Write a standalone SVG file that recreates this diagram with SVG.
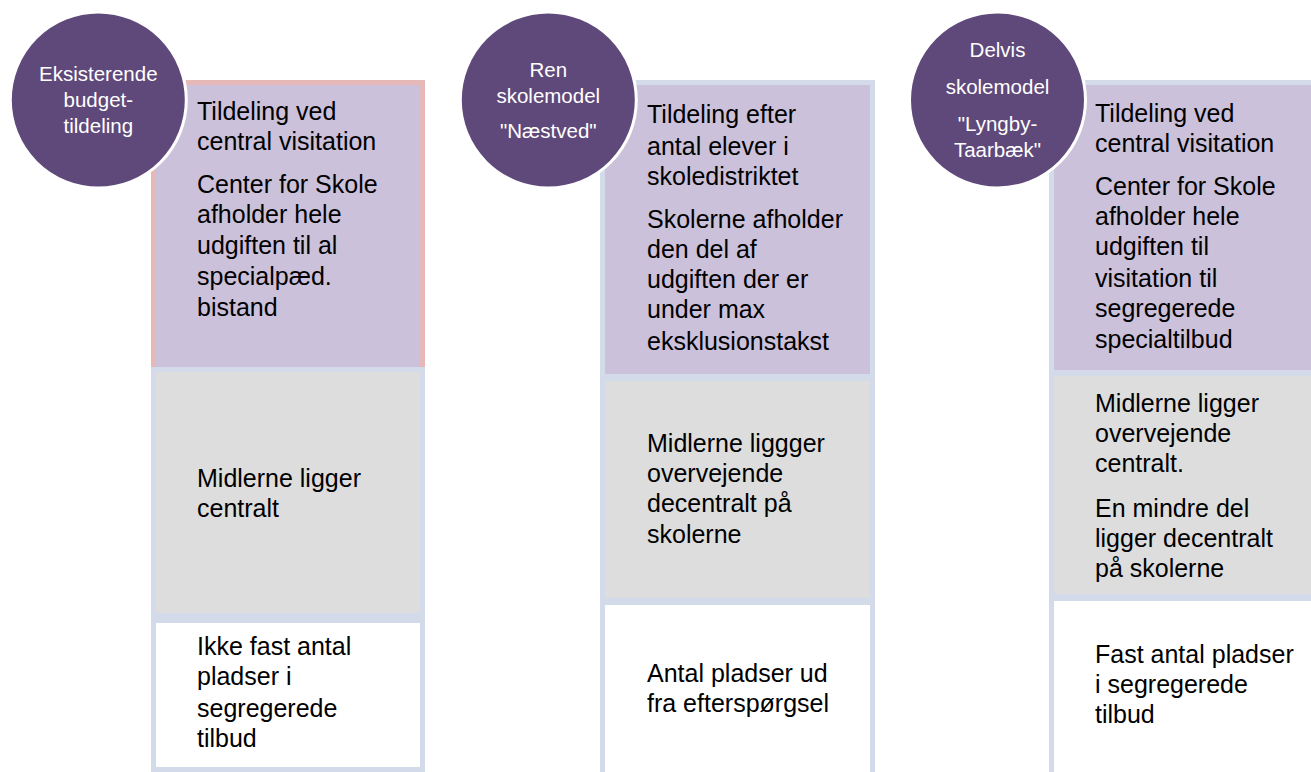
<svg xmlns="http://www.w3.org/2000/svg" width="1311" height="772" viewBox="0 0 1311 772">
<style>
.pur{fill:#CCC1DA;stroke:#D3DAE9;stroke-width:5}
.pink{stroke:#E6B9B8}
.gry{fill:#DDDDDD;stroke:#D3DAE9;stroke-width:5}
.wht{fill:#FFFFFF;stroke:#D3DAE9;stroke-width:5}
.circ{fill:#5F497A;stroke:#FFFFFF;stroke-width:3}
.t{font-family:"Liberation Sans",Arial,sans-serif;font-size:25px;fill:#000}
.ct{font-family:"Liberation Sans",Arial,sans-serif;font-size:20.5px;fill:#FFFFFF;text-anchor:middle}
</style>
<rect width="1311" height="772" fill="#FFFFFF"/>
<g id="connectors"></g>

<!-- Column 1 -->
<g id="col1-alloc">
<rect class="pur pink" x="153.5" y="82.5" width="269" height="287"/>
<text class="t" x="197"><tspan x="197" y="120">Tildeling ved</tspan><tspan x="197" y="150">central visitation</tspan><tspan x="197" y="193">Center for Skole</tspan><tspan x="197" y="223">afholder hele</tspan><tspan x="197" y="254">udgiften til al</tspan><tspan x="197" y="285">specialpæd.</tspan><tspan x="197" y="316">bistand</tspan></text>
</g>
<g id="col1-funds">
<rect class="gry" x="153.5" y="369.5" width="269" height="246"/>
<text class="t"><tspan x="197" y="487">Midlerne ligger</tspan><tspan x="197" y="517">centralt</tspan></text>
</g>
<g id="col1-places">
<rect class="wht" x="153.5" y="620.5" width="269" height="149"/>
<text class="t"><tspan x="197" y="655">Ikke fast antal</tspan><tspan x="197" y="685">pladser i</tspan><tspan x="197" y="717">segregerede</tspan><tspan x="197" y="747">tilbud</tspan></text>
</g>
<g id="col1-title">
<circle class="circ" cx="98.3" cy="100" r="88"/>
<text class="ct"><tspan x="98.3" y="81">Eksisterende</tspan><tspan x="98.3" y="107">budget-</tspan><tspan x="98.3" y="133">tildeling</tspan></text>
</g>

<!-- Column 2 -->
<g id="col2-alloc">
<rect class="pur" x="602.5" y="82.5" width="270" height="294"/>
<text class="t"><tspan x="647" y="123">Tildeling efter</tspan><tspan x="647" y="155">antal elever i</tspan><tspan x="647" y="185">skoledistriktet</tspan><tspan x="647" y="228">Skolerne afholder</tspan><tspan x="647" y="258">den del af</tspan><tspan x="647" y="288">udgiften der er</tspan><tspan x="647" y="318">under max</tspan><tspan x="647" y="350">eksklusionstakst</tspan></text>
</g>
<g id="col2-funds">
<rect class="gry" x="602.5" y="378.5" width="270" height="222"/>
<text class="t"><tspan x="647" y="452">Midlerne liggger</tspan><tspan x="647" y="482">overvejende</tspan><tspan x="647" y="512">decentralt på</tspan><tspan x="647" y="543">skolerne</tspan></text>
</g>
<g id="col2-places">
<rect class="wht" x="602.5" y="602.5" width="270" height="185"/>
<text class="t"><tspan x="647" y="682">Antal pladser ud</tspan><tspan x="647" y="712">fra efterspørgsel</tspan></text>
</g>
<g id="col2-title">
<circle class="circ" cx="548.3" cy="100" r="88"/>
<text class="ct"><tspan x="548.3" y="77">Ren</tspan><tspan x="548.3" y="103">skolemodel</tspan><tspan x="548.3" y="138">"Næstved"</tspan></text>
</g>

<!-- Column 3 -->
<g id="col3-alloc">
<rect class="pur" x="1051.5" y="82.5" width="270" height="290"/>
<text class="t"><tspan x="1095" y="122">Tildeling ved</tspan><tspan x="1095" y="152">central visitation</tspan><tspan x="1095" y="195">Center for Skole</tspan><tspan x="1095" y="225">afholder hele</tspan><tspan x="1095" y="255">udgiften til</tspan><tspan x="1095" y="287">visitation til</tspan><tspan x="1095" y="317">segregerede</tspan><tspan x="1095" y="348">specialtilbud</tspan></text>
</g>
<g id="col3-funds">
<rect class="gry" x="1051.5" y="373.5" width="270" height="223"/>
<text class="t"><tspan x="1095" y="412">Midlerne ligger</tspan><tspan x="1095" y="442">overvejende</tspan><tspan x="1095" y="472">centralt.</tspan><tspan x="1095" y="517">En mindre del</tspan><tspan x="1095" y="547">ligger decentralt</tspan><tspan x="1095" y="577">på skolerne</tspan></text>
</g>
<g id="col3-places">
<rect class="wht" x="1051.5" y="598.5" width="270" height="190"/>
<text class="t"><tspan x="1095" y="663">Fast antal pladser</tspan><tspan x="1095" y="693">i segregerede</tspan><tspan x="1095" y="723">tilbud</tspan></text>
</g>
<g id="col3-title">
<circle class="circ" cx="997.5" cy="100" r="88"/>
<text class="ct"><tspan x="997.5" y="57">Delvis</tspan><tspan x="997.5" y="94">skolemodel</tspan><tspan x="997.5" y="131">"Lyngby-</tspan><tspan x="997.5" y="157">Taarbæk"</tspan></text>
</g>
</svg>
